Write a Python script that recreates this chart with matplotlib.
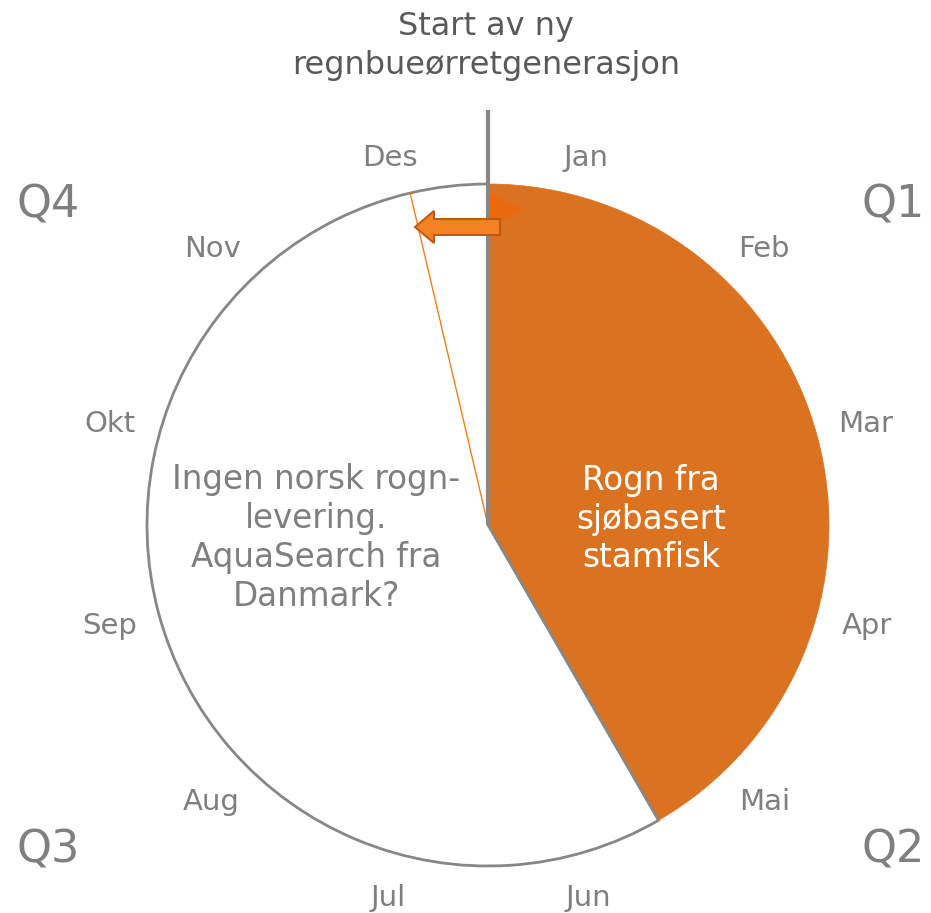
import matplotlib
matplotlib.use("Agg")
import matplotlib.pyplot as plt
import numpy as np
from matplotlib.patches import Polygon

# ---- data ----
months = ["Jan", "Feb", "Mar", "Apr", "Mai", "Jun", "Jul", "Aug", "Sep", "Okt", "Nov", "Des"]
slice_months = [5, 7]          # orange: Jan-May, white: Jun-Des
slice_labels = ["Rogn fra\nsjøbasert\nstamfisk",
                "Ingen norsk rogn-\nlevering.\nAquaSearch fra\nDanmark?"]
marker_month = 11.56           # thin orange line position (in months from Jan 1)
quarters = ["Q1", "Q2", "Q3", "Q4"]
title = "Start av ny\nregnbueørretgenerasjon"

# ---- layout helpers (pixel -> data, circle radius 1) ----
W, H = 931, 913
CX, CY, R = 488, 525, 341
def px(x, y):
    return ((x - CX) / R, (CY - y) / R)

fig = plt.figure(figsize=(W / 100, H / 100), dpi=100)
ax = fig.add_axes([0, 0, 1, 1])

ORANGE = "#DA7220"
GRAY = "#878787"
TXT = "#7F7F7F"

wedges, _ = ax.pie(slice_months, startangle=90, counterclock=False, radius=1,
                   center=(0, 0), colors=[ORANGE, "white"], frame=True)
wedges[0].set_edgecolor(ORANGE)
wedges[0].set_linewidth(0.5)
wedges[1].set_edgecolor(GRAY)
wedges[1].set_linewidth(2.0)
wedges[1].set_zorder(3)
wedges[0].set_zorder(2)
ax.set_xlim(-CX / R, (W - CX) / R)
ax.set_ylim(-(H - CY) / R, CY / R)
ax.set_aspect("equal")
ax.axis("off")

# vertical start line
x0, y0 = px(488, 110)
ax.plot([0, 0], [0, y0], color=GRAY, lw=3, zorder=5, solid_capstyle="butt")

# thin orange line
ang = np.deg2rad(marker_month * 30)
ax.plot([0, np.sin(ang)], [0, np.cos(ang)], color="#F07F1E", lw=1, zorder=4)

# small triangle
tri = Polygon([px(489, 192), px(523, 210), px(489, 228)], closed=True,
              facecolor="#E96A0E", edgecolor="none", zorder=6)
ax.add_patch(tri)

# left arrow
arrow_pts = [px(500, 219), px(434, 219), px(434, 211), px(415, 227),
             px(434, 243), px(434, 235), px(500, 235)]
ax.add_patch(Polygon(arrow_pts, closed=True, facecolor="#F58220",
                     edgecolor="#BF5A16", lw=1.5, zorder=7))

# month labels
radii = [380, 390, 391, 392, 392, 386, 386, 392, 392, 391, 390, 380]
for i, (m, r) in enumerate(zip(months, radii)):
    a = np.deg2rad(i * 30 + 15)
    ax.text(np.sin(a) * r / R, np.cos(a) * r / R, m, ha="center", va="center",
            fontsize=21, color=TXT, family="DejaVu Sans")

# quarter labels
qpos = [(893, 205), (893, 850), (48, 850), (48, 205)]
for q, (qx, qy) in zip(quarters, qpos):
    ax.text(*px(qx, qy), q, ha="center", va="center", fontsize=32,
            color=TXT, family="DejaVu Sans")

# title
ax.text(*px(486, 46), title, ha="center", va="center", fontsize=23,
        color="#595959", linespacing=1.3, family="DejaVu Sans")

# slice texts
ax.text(*px(651, 519), slice_labels[0], ha="center", va="center", fontsize=23.5,
        color="white", linespacing=1.22, family="DejaVu Sans", zorder=8)
ax.text(*px(316, 538), slice_labels[1], ha="center", va="center", fontsize=23.5,
        color=TXT, linespacing=1.22, family="DejaVu Sans", zorder=8)

fig.savefig("out.png", dpi=100, facecolor="white")
